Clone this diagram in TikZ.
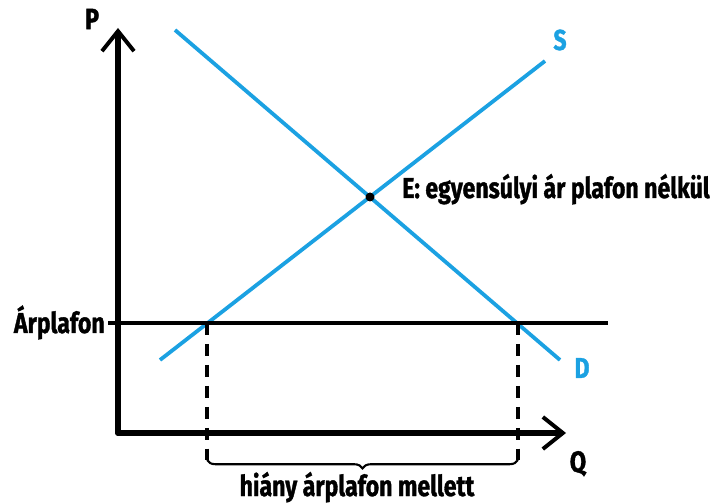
\documentclass[tikz,border=0pt]{standalone}
\usepackage{fontspec}
\newfontfamily\lblfont{Fira Sans}[FakeStretch=0.8, BoldFeatures={FakeBold=1.2}]
\usetikzlibrary{arrows.meta, decorations.pathreplacing}
\definecolor{curveblue}{HTML}{1BA1E2}
\begin{document}
\begin{tikzpicture}[x=0.025cm, y=-0.025cm,
  axis/.style={line width=4pt, line cap=round, -{Straight Barb[length=5mm, width=8mm, line width=2.8pt]}},
  curve/.style={curveblue, line width=2.7pt},
  ceiling/.style={line width=2.5pt},
  drop/.style={line width=2.6pt, dash pattern=on 8.5pt off 6.4pt},
  lbl/.style={font=\lblfont\bfseries\fontsize{20.5}{22}\selectfont, inner sep=0pt},
  curvelbl/.style={lbl, text=curveblue}
]
\useasboundingbox (0,0) rectangle (715,503);

% ---- axes ----
\coordinate (O) at (118,433);
\coordinate (Ptip) at (118,28);
\coordinate (Qtip) at (566,433);
\draw[axis] (O) -- (Ptip);
\draw[axis] (O) -- (Qtip);
\node[lbl, font=\lblfont\bfseries\fontsize{21}{23}\selectfont] (P) at (92,19) {P};
\node[lbl, font=\lblfont\bfseries\fontsize{21}{23}\selectfont, anchor=base] (Q) at (578,472) {Q};

% ---- supply and demand ----
\coordinate (S0) at (160,360);
\coordinate (S1) at (545,61);
\coordinate (D0) at (175,30);
\coordinate (D1) at (560,360);
\draw[curve] (S0) -- (S1);
\draw[curve] (D0) -- (D1);
\node[curvelbl] (Slbl) at (560,40) {S};
\node[curvelbl] (Dlbl) at (582,368) {D};

% equilibrium without the ceiling
\coordinate (E) at (370,197);
\fill (E) circle (4.5);
\node[lbl, anchor=base west] (Elbl) at (402,198) {E: egyensúlyi ár plafon nélkül};

% ---- price ceiling ----
\coordinate (C0) at (108,323);
\coordinate (C1) at (608,323);
\draw[ceiling] (C0) -- (C1);
\node[lbl, anchor=base east] (Clbl) at (105,333) {Árplafon};

% supplied and demanded quantities at the ceiling
\coordinate (Qs) at (207,323);
\coordinate (Qd) at (518,323);
\coordinate (Qsb) at (207,460);
\coordinate (Qdb) at (518,460);
\draw[drop] (Qs) -- (Qsb);
\draw[drop] (Qd) -- (Qdb);

% ---- shortage ----
\draw[line width=1.5pt, decorate, decoration={brace, amplitude=6pt}] (Qdb) -- (Qsb);
\node[lbl, anchor=base] (short) at (357,496) {hiány árplafon mellett};
\end{tikzpicture}
\end{document}
